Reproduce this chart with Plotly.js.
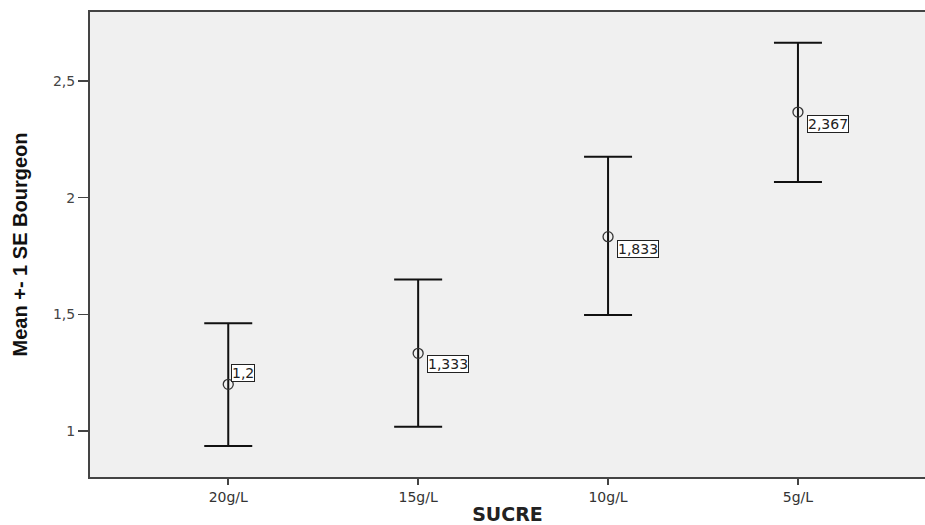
<!DOCTYPE html>
<html>
<head>
<meta charset="utf-8">
<script src="https://cdn.plot.ly/plotly-3.0.1.min.js"></script>
<style>html,body{margin:0;padding:0;background:#fff;}</style>
</head>
<body>
<div id="chart" style="width:925px;height:525px;"></div>
<script>
// Data
const categories = ["20g/L", "15g/L", "10g/L", "5g/L"];
const means = [1.2, 1.333, 1.833, 2.367];
const meanLabels = ["1,2", "1,333", "1,833", "2,367"];
const seUpper = [0.262, 0.317, 0.343, 0.297];
const seLower = [0.264, 0.315, 0.336, 0.300];
const yTickVals = [1, 1.5, 2, 2.5];
const yTickText = ["1", "1,5", "2", "2,5"];

const trace = {
  x: categories,
  y: means,
  type: "scatter",
  mode: "markers",
  marker: {symbol: "circle-open", size: 10, color: "#333", line: {width: 1.3, color: "#333"}},
  error_y: {
    type: "data",
    symmetric: false,
    array: seUpper,
    arrayminus: seLower,
    color: "#111",
    thickness: 2,
    width: 24
  },
  hoverinfo: "skip",
  cliponaxis: false
};

const labelShift = [[3, 11], [9, -11], [9, -12], [9, -12]];
const annotations = categories.map((c, i) => ({
  x: c, y: means[i], xref: "x", yref: "y",
  text: meanLabels[i], showarrow: false,
  xanchor: "left", yanchor: "middle",
  xshift: labelShift[i][0], yshift: labelShift[i][1],
  bgcolor: "#ffffff", bordercolor: "#222", borderwidth: 1, borderpad: 0,
  font: {family: "DejaVu Sans", size: 14, color: "#222"}
}));

const layout = {
  width: 925, height: 525,
  margin: {l: 90, r: 0, t: 12, b: 48},
  paper_bgcolor: "#ffffff",
  plot_bgcolor: "#f0f0f0",
  showlegend: false,
  separators: ", ",
  xaxis: {
    type: "category",
    range: [-0.728, 3.669],
    showgrid: false, zeroline: false,
    showline: true, linecolor: "#444", linewidth: 2, mirror: true,
    ticks: "outside", ticklen: 6, tickwidth: 2, tickcolor: "#444",
    tickfont: {family: "DejaVu Sans", size: 14, color: "#333"},
    title: {text: "<b>SUCRE</b>", font: {family: "DejaVu Sans", size: 19, color: "#222"}, standoff: 4}
  },
  yaxis: {
    range: [0.803, 2.796],
    tickvals: yTickVals, ticktext: yTickText,
    showgrid: false, zeroline: false,
    showline: true, linecolor: "#444", linewidth: 2, mirror: false,
    ticks: "outside", ticklen: 10, tickwidth: 1.5, tickcolor: "#444",
    tickfont: {family: "DejaVu Sans", size: 14, color: "#444"},
    title: {text: "<b>Mean +- 1 SE Bourgeon</b>", font: {family: "Liberation Sans", size: 20, color: "#111"}, standoff: 20}
  },
  annotations: annotations
};

Plotly.newPlot("chart", [trace], layout, {displayModeBar: false, staticPlot: true});
</script>
</body>
</html>
